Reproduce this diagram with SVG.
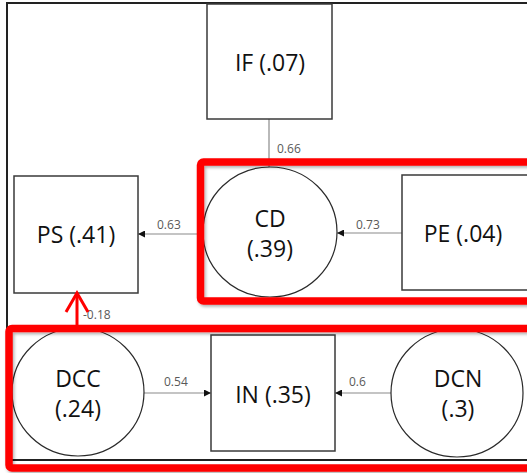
<svg xmlns="http://www.w3.org/2000/svg" width="527" height="473" viewBox="0 0 527 473">
<defs>
<style>
.box{fill:#fff;stroke:#3a3a3a;stroke-width:1.5}
.ell{fill:#fff;stroke:#2a2a2a;stroke-width:1.2}
.lbl{font-family:"Open Sans","Liberation Sans",sans-serif;font-size:23px;fill:#111;text-anchor:middle}
.num{font-family:"Open Sans","Liberation Sans",sans-serif;font-size:12px;fill:#595959}
.con{stroke:#8a8a8a;stroke-width:1.2;fill:none}
.hl{fill:none;stroke:#ff0000;stroke-width:7.5;filter:url(#sh)}
</style>
<marker id="ah" viewBox="0 0 10 10" refX="10" refY="5" markerWidth="7" markerHeight="7" markerUnits="userSpaceOnUse" orient="auto">
<path d="M0,0 L10,5 L0,10 z" fill="#111"/>
</marker>
<filter id="sh" x="-5%" y="-5%" width="110%" height="115%">
<feDropShadow dx="1.5" dy="2" stdDeviation="1.5" flood-color="#000" flood-opacity="0.3"/>
</filter>
</defs>
<rect x="7" y="3" width="530" height="457" fill="#fff" stroke="#222" stroke-width="2"/>
<g id="connectors">
<line class="con" x1="269" y1="119" x2="269" y2="167"/>
<line class="con" x1="203" y1="234" x2="138" y2="234" marker-end="url(#ah)"/>
<line class="con" x1="402" y1="233" x2="337" y2="233" marker-end="url(#ah)"/>
<line class="con" x1="143" y1="393" x2="211" y2="393" marker-end="url(#ah)"/>
<line class="con" x1="391" y1="393" x2="335" y2="393" marker-end="url(#ah)"/>
<text class="num" x="277" y="153">0.66</text>
<text class="num" x="157" y="229">0.63</text>
<text class="num" x="356" y="229">0.73</text>
<text class="num" x="83" y="319">-0.18</text>
<text class="num" x="164" y="386">0.54</text>
<text class="num" x="349" y="386">0.6</text>
</g>
<g id="IF"><rect class="box" x="207" y="4" width="125" height="115"/><text class="lbl" x="270" y="71">IF (.07)</text></g>
<g id="PS"><rect class="box" x="14" y="176" width="124" height="117"/><text class="lbl" x="76" y="243">PS (.41)</text></g>
<g id="CD"><ellipse class="ell" cx="270" cy="232" rx="67" ry="65"/><text class="lbl" x="270" y="227">CD</text><text class="lbl" x="270" y="257">(.39)</text></g>
<g id="PE"><rect class="box" x="402" y="175" width="126" height="115"/><text class="lbl" x="463" y="242">PE (.04)</text></g>
<g id="DCC"><ellipse class="ell" cx="78" cy="392" rx="66" ry="64"/><text class="lbl" x="78" y="387">DCC</text><text class="lbl" x="78" y="417">(.24)</text></g>
<g id="IN"><rect class="box" x="211" y="335" width="124" height="116"/><text class="lbl" x="273" y="403">IN (.35)</text></g>
<g id="DCN"><ellipse class="ell" cx="457" cy="393" rx="66" ry="64"/><text class="lbl" x="458" y="387">DCN</text><text class="lbl" x="458" y="417">(.3)</text></g>
<g id="highlights">
<rect class="hl" x="200.5" y="162" width="340" height="139" rx="3"/>
<rect class="hl" x="9" y="328.5" width="530" height="139.5" rx="3"/>
<line x1="77" y1="326" x2="77" y2="293" stroke="#ff0000" stroke-width="3"/>
<polyline points="66,312 77,293 88,312" fill="none" stroke="#ff0000" stroke-width="3"/>
</g>
</svg>
